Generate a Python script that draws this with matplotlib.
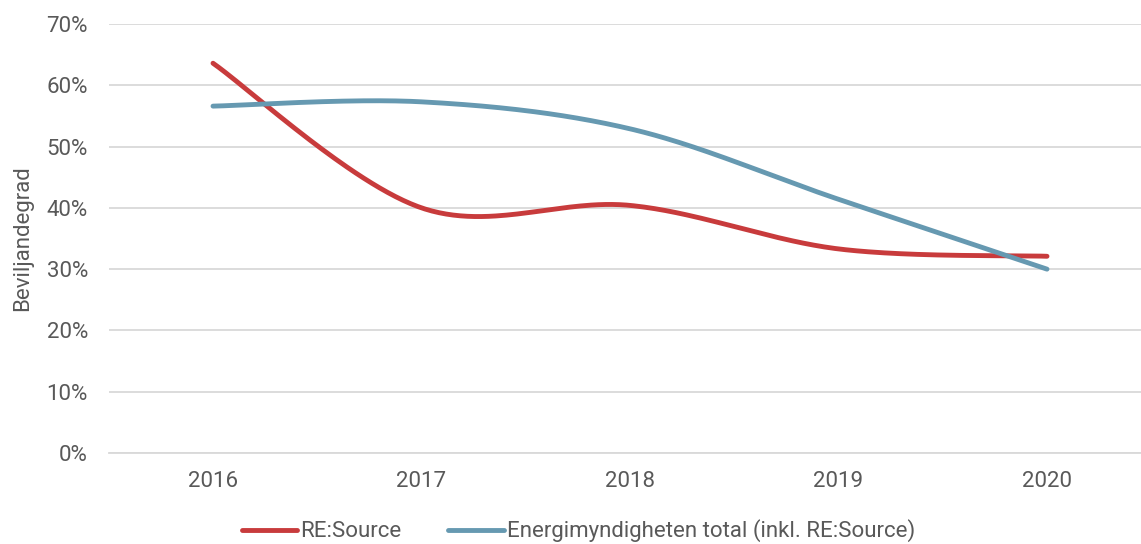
import numpy as np
import matplotlib
matplotlib.use("Agg")
import matplotlib.pyplot as plt
from matplotlib import font_manager

years = ["2016", "2017", "2018", "2019", "2020"]
re_source = [63.6, 40.0, 40.4, 33.3, 32.1]
energi_total = [56.6, 57.3, 52.9, 41.4, 30.0]
series_names = ["RE:Source", "Energimyndigheten total (inkl. RE:Source)"]
colors = ["#C83B3C", "#6699B1"]
yticks = [0, 10, 20, 30, 40, 50, 60, 70]

avail = {f.name for f in font_manager.fontManager.ttflist}
fam = "Liberation Sans Narrow" if "Liberation Sans Narrow" in avail else "Roboto"
plt.rcParams['font.family'] = [fam, 'DejaVu Sans']

TXT = "#595959"
GRID = "#D9D9D9"
FS = 16


def excel_smooth(xs, ys, n=60):
    P = np.column_stack([xs, ys]).astype(float)
    out = []
    for i in range(len(P) - 1):
        p0 = P[i - 1] if i > 0 else P[i]
        p1 = P[i]
        p2 = P[i + 1]
        p3 = P[i + 2] if i + 2 < len(P) else P[i + 1]
        c1 = p1 + (p2 - p0) / 6.0
        c2 = p2 - (p3 - p1) / 6.0
        t = np.linspace(0, 1, n)[:, None]
        seg = ((1 - t) ** 3) * p1 + 3 * ((1 - t) ** 2) * t * c1 + 3 * (1 - t) * t ** 2 * c2 + t ** 3 * p2
        out.append(seg if i == 0 else seg[1:])
    s = np.vstack(out)
    return s[:, 0], s[:, 1]


fig = plt.figure(figsize=(11.41, 5.44), dpi=100)
ax = fig.add_axes([108.75 / 1141, (544 - 453) / 544, 1042.5 / 1141, 429 / 544])

x = np.arange(len(years))
for vals, name, c in zip([re_source, energi_total], series_names, colors):
    sx, sy = excel_smooth(x, vals)
    ax.plot(sx, sy, color=c, lw=3.5, solid_capstyle='round', label=name)

ax.set_xlim(-0.5, len(years) - 0.5)
ax.set_ylim(0, 70)
ax.set_yticks(yticks)
ax.set_yticklabels([f"{v}%" for v in yticks])
ax.set_xticks(x)
ax.set_xticklabels(years)
ax.grid(axis='y', color=GRID, lw=1.3)
ax.set_axisbelow(True)
for s in ['top', 'right', 'left']:
    ax.spines[s].set_visible(False)
ax.spines['bottom'].set_color(GRID)
ax.spines['bottom'].set_linewidth(1.3)
ax.tick_params(axis='both', length=0, labelsize=FS, labelcolor=TXT)
ax.tick_params(axis='y', pad=15)
ax.tick_params(axis='x', pad=13)
ax.set_ylabel("Beviljandegrad", fontsize=FS, color=TXT)
ax.yaxis.set_label_coords(-76 / 1042.5, 0.5)

leg = fig.legend(loc='center', bbox_to_anchor=(578.5 / 1141, 1 - 531 / 544), ncol=2,
                 frameon=False, fontsize=FS, handlelength=2.5, handletextpad=0.15,
                 columnspacing=2.1)
for t in leg.get_texts():
    t.set_color(TXT)

fig.savefig("out.png", dpi=100)
